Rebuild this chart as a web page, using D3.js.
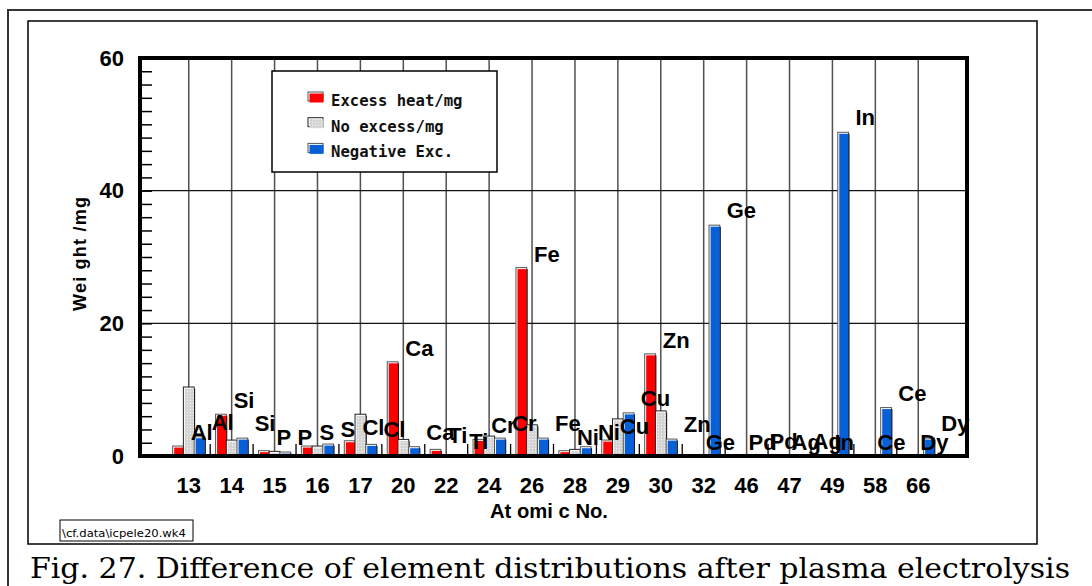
<!DOCTYPE html>
<html><head><meta charset="utf-8">
<script src="https://cdn.jsdelivr.net/npm/d3@7"></script>
<style>body{margin:0;background:#fff} svg{display:block}</style>
</head><body>
<svg id="chart" width="1092" height="586"></svg>
<script>
// ---- data ----
const categories = ["13","14","15","16","17","20","22","24","26","28","29","30","32","46","47","49","58","66"];
const elements   = ["Al","Si","P","S","Cl","Ca","Ti","Cr","Fe","Ni","Cu","Zn","Ge","Pd","Ag","In","Ce","Dy"];
const excessHeat = [1.5,6.3,0.8,1.5,2.3,14.2,1.0,2.5,28.4,0.8,2.4,15.4,0,0,0,0,0,0];
const noExcess   = [10.4,2.4,0.7,1.5,6.3,2.5,0.1,3.0,4.7,1.0,5.6,6.8,0,0,0,0,0,0];
const negativeExc= [2.9,2.7,0.6,1.8,1.75,1.4,0,2.7,2.7,1.4,6.5,2.55,34.8,0,0,48.8,7.3,2.7];
const seriesNames = ["Excess heat/mg","No excess/mg","Negative Exc."];
const yTicks = [0,20,40,60];
const yMinorTicks = d3.range(0,61,2);

const svg = d3.select("#chart");
const FONT = "'Liberation Sans', Arial, sans-serif";

const defs = svg.append("defs");
const pat = defs.append("pattern").attr("id","dots").attr("width",3).attr("height",3).attr("patternUnits","userSpaceOnUse");
pat.append("rect").attr("width",3).attr("height",3).attr("fill","#d4d4d4");
pat.append("rect").attr("x",1).attr("y",1).attr("width",1).attr("height",1).attr("fill","#f6f6f6");

const fills = ["#ff0000","url(#dots)","#0860d8"];
const outlines = ["#555","#222","#555"];

// frames
svg.append("path").attr("d","M8,600V10H1100").attr("fill","none").attr("stroke","#333").attr("stroke-width",2);
svg.append("rect").attr("x",28).attr("y",21).attr("width",1009).attr("height",523)
  .attr("fill","none").attr("stroke","#000").attr("stroke-width",1.5);

// scales
const x = d3.scaleBand().domain(categories).range([140,967]).paddingInner(0).paddingOuter(0.636);
const bw = x.bandwidth();
const cx = c => x(c) + bw/2;
const y = d3.scaleLinear().domain([0,60]).range([456,58]);
const xs = d3.scaleBand().domain(seriesNames).range([-bw*0.375, bw*0.375]);
const barW = xs.bandwidth();

const plot = svg.append("g");
// vertical gridlines at category centres
plot.selectAll("line.vg").data(categories).join("line")
  .attr("x1",d=>cx(d)).attr("x2",d=>cx(d)).attr("y1",y(60)).attr("y2",y(0))
  .attr("stroke","#505050").attr("stroke-width",1.5);
// horizontal gridlines
plot.selectAll("line.hg").data(yTicks.filter(t=>t>0&&t<60)).join("line")
  .attr("x1",140).attr("x2",967).attr("y1",d=>y(d)).attr("y2",d=>y(d))
  .attr("stroke","#111").attr("stroke-width",1.3);

// minor y ticks (inside)
const yMinor = svg.append("g").attr("transform","translate(140,0)")
  .call(d3.axisRight(y).tickValues(yMinorTicks).tickSize(12).tickFormat(""));
yMinor.select(".domain").remove();
yMinor.selectAll("line").attr("stroke","#000").attr("stroke-width",1.5);

// minor x ticks between categories
plot.selectAll("line.xt").data(categories.slice(0,-1)).join("line")
  .attr("x1",d=>x(d)+bw).attr("x2",d=>x(d)+bw).attr("y1",y(0)).attr("y2",y(0)-12)
  .attr("stroke","#000").attr("stroke-width",1.3);

// bars
const seriesVals = [excessHeat, noExcess, negativeExc];
const barData = [];
categories.forEach((c,i)=>seriesVals.forEach((vals,k)=>{ if(vals[i]>0) barData.push({c, k, v:vals[i]}); }));
const bars = plot.selectAll("g.bar").data(barData).join("g");
bars.append("rect")
  .attr("x",d=>cx(d.c)+xs(seriesNames[d.k])).attr("y",d=>y(d.v))
  .attr("width",barW).attr("height",d=>y(0)-y(d.v))
  .attr("fill","#fff").attr("stroke",d=>outlines[d.k]).attr("stroke-width",1);
bars.append("rect")
  .attr("x",d=>cx(d.c)+xs(seriesNames[d.k])+1.5).attr("y",d=>y(d.v)+1.5)
  .attr("width",barW-1.5).attr("height",d=>y(0)-y(d.v))
  .attr("fill",d=>fills[d.k]);
bars.append("line")
  .attr("x1",d=>cx(d.c)+xs(seriesNames[d.k])+barW+0.5).attr("x2",d=>cx(d.c)+xs(seriesNames[d.k])+barW+0.5)
  .attr("y1",d=>y(d.v)+1.5).attr("y2",y(0)+1.5).attr("stroke","#111").attr("stroke-width",1);

// plot frame
svg.append("rect").attr("x",140).attr("y",58).attr("width",827).attr("height",398)
  .attr("fill","none").attr("stroke","#000").attr("stroke-width",4);

// element labels (attached to red series and blue series)
const lab = svg.append("g").attr("font-family",FONT).attr("font-weight","bold").attr("font-size",22).attr("fill","#000");
lab.selectAll("text.l1").data(categories).join("text")
  .attr("x",d=>cx(d)+2).attr("y",(d,i)=>y(excessHeat[i])-6).text((d,i)=>elements[i]);
lab.selectAll("text.l2").data(categories).join("text")
  .attr("x",d=>cx(d)+23).attr("y",(d,i)=>y(negativeExc[i])-7).text((d,i)=>elements[i]);

// axes labels
const yAx = svg.append("g").attr("transform","translate(140,0)")
  .call(d3.axisLeft(y).tickValues(yTicks).tickSize(0).tickPadding(16));
yAx.select(".domain").remove();
yAx.selectAll("text").attr("font-family",FONT).attr("font-weight","bold").attr("font-size",22).attr("fill","#000");

const xAx = svg.append("g").attr("transform","translate(0,456)")
  .call(d3.axisBottom(x).tickSize(0).tickPadding(21));
xAx.select(".domain").remove();
xAx.selectAll("text").attr("font-family",FONT).attr("font-weight","bold").attr("font-size",22).attr("fill","#000");

svg.append("text").attr("x",490).attr("y",518).attr("font-family",FONT).attr("font-weight","bold")
  .attr("font-size",21).attr("textLength",118).attr("lengthAdjust","spacingAndGlyphs").text("At omi c No.");
svg.append("text").attr("transform","translate(86,254) rotate(-90)").attr("text-anchor","middle")
  .attr("font-family",FONT).attr("font-weight","bold").attr("font-size",18)
  .attr("textLength",114).attr("lengthAdjust","spacing").text("Wei ght /mg");

// legend
const lg = svg.append("g");
lg.append("rect").attr("x",272).attr("y",71).attr("width",225).attr("height",101)
  .attr("fill","#fff").attr("stroke","#000").attr("stroke-width",1.5);
const lgItems = lg.selectAll("g.li").data(seriesNames).join("g")
  .attr("transform",(d,i)=>`translate(308,${92+i*25.7})`);
lgItems.append("rect").attr("width",15).attr("height",9).attr("fill","#fff").attr("stroke",(d,i)=>outlines[i]).attr("stroke-width",1);
lgItems.append("rect").attr("x",1.5).attr("y",1.5).attr("width",14).attr("height",9).attr("fill",(d,i)=>fills[i]);
lgItems.append("text").attr("x",23).attr("y",14).attr("font-family","'DejaVu Sans Mono', monospace")
  .attr("font-weight","bold").attr("font-size",15.6).attr("fill","#111").text(d=>d);

// file tag
svg.append("rect").attr("x",60).attr("y",520).attr("width",133).attr("height",21)
  .attr("fill","#fff").attr("stroke","#000").attr("stroke-width",1);
svg.append("text").attr("x",62).attr("y",537).attr("font-family","'DejaVu Sans', sans-serif").attr("font-size",11)
  .attr("textLength",124).attr("lengthAdjust","spacingAndGlyphs").text("\\cf.data\\icpele20.wk4");

// caption
svg.append("text").attr("x",30).attr("y",578).attr("font-family","'DejaVu Serif', serif").attr("font-size",27)
  .attr("textLength",1040).attr("lengthAdjust","spacingAndGlyphs")
  .text("Fig. 27. Difference of element distributions after plasma electrolysis");
</script>
</body></html>
